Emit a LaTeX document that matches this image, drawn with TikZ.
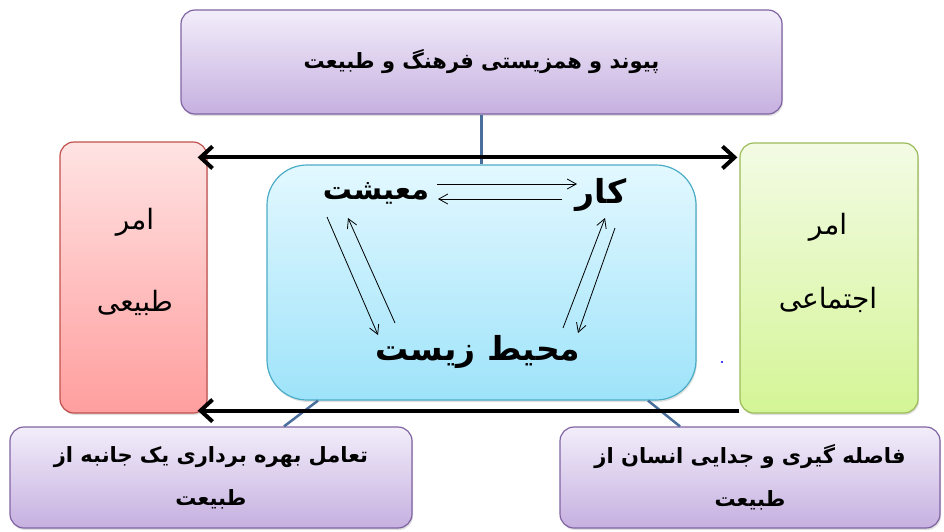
\documentclass[tikz,border=0pt]{standalone}
\usepackage{fontspec}
\newfontfamily\arabicfont[Script=Arabic]{DejaVu Sans}
\TeXXeTstate=1
\usetikzlibrary{arrows.meta,shadows}

\definecolor{violetline}{HTML}{8064A2}
\definecolor{violettop}{HTML}{F2EDFA}
\definecolor{violetbot}{HTML}{C6B0E0}
\definecolor{redline}{HTML}{C0504D}
\definecolor{redtop}{HTML}{FFE3E3}
\definecolor{redbot}{HTML}{FF9E9E}
\definecolor{greenline}{HTML}{9BBB59}
\definecolor{greentop}{HTML}{F3FBE4}
\definecolor{greenbot}{HTML}{D4F596}
\definecolor{cyanline}{HTML}{4BACC6}
\definecolor{cyantop}{HTML}{E3F8FF}
\definecolor{cyanbot}{HTML}{9EE3FA}
\definecolor{linkline}{HTML}{4A6F9C}

\tikzstyle{base} = [rectangle, draw, line width=1.2pt, rounded corners=14pt,
    drop shadow={opacity=0.25, shadow xshift=1pt, shadow yshift=-2pt}]
\tikzstyle{violetbox} = [base, draw=violetline, top color=violettop,
    bottom color=violetbot, align=center,
    font=\arabicfont\bfseries\fontsize{21}{43}\selectfont]
\tikzstyle{redbox} = [base, draw=redline, top color=redtop, bottom color=redbot]
\tikzstyle{greenbox} = [base, draw=greenline, top color=greentop, bottom color=greenbot]
\tikzstyle{cyanbox} = [base, draw=cyanline, top color=cyantop, bottom color=cyanbot,
    rounded corners=40pt]
\tikzstyle{sideword} = [inner sep=0pt, font=\arabicfont\fontsize{28}{32}\selectfont]
\tikzstyle{word} = [inner sep=0pt, font=\arabicfont\bfseries\fontsize{29}{33}\selectfont]
\tikzstyle{link} = [draw=linkline, line width=2.5pt]
\tikzstyle{bigarrow} = [draw, line width=4pt, -{Straight Barb[length=12pt,width=22pt]}]
\tikzstyle{thinarrow} = [draw, line width=0.8pt, -{Straight Barb[length=9pt,width=10pt]}]

\begin{document}
\begin{tikzpicture}[x=1pt, y=-1pt]
\useasboundingbox (0,0) rectangle (944,531);
\node [violetbox, minimum width=601, minimum height=104] (unity) at (481.5,62)
    {\beginR پیوند و همزیستی فرهنگ و طبیعت\endR};
\node [cyanbox, minimum width=429, minimum height=235] (life) at (481.5,282.5) {};
\node [redbox, minimum width=147, minimum height=271] (nature) at (133.5,277.5) {};
\node [greenbox, minimum width=178, minimum height=270] (social) at (829,278) {};
\node [violetbox, minimum width=402, minimum height=101] (oneway) at (211,477.5)
    {\beginR تعامل بهره برداری یک جانبه از\endR\\ \beginR طبیعت\endR};
\node [violetbox, minimum width=380, minimum height=101] (apart) at (750,477.5)
    {\beginR فاصله گیری و جدایی انسان از\endR\\ \beginR طبیعت\endR};

\node [sideword] (amrn) at (135,222) {\beginR امر\endR};
\node [sideword] (tabii) at (135,303) {\beginR طبیعی\endR};
\node [sideword] (amrs) at (828,227) {\beginR امر\endR};
\node [sideword] (ejtemai) at (828,300) {\beginR اجتماعی\endR};

\node [word] (maish) at (376,193) {\beginR معیشت\endR};
\node [word, font=\arabicfont\bfseries\fontsize{33}{37}\selectfont] (kar) at (601,195)
    {\beginR کار\endR};
\node [word, font=\arabicfont\bfseries\fontsize{33}{37}\selectfont] (mohit) at (478,352)
    {\beginR محیط زیست\endR};

\path [link] (unity.south) -- (life.north);
\path [link] ([shift={(-163.5,0)}]life.south) -- ([shift={(73,0)}]oneway.north);
\path [link] ([shift={(166.5,0)}]life.south) -- ([shift={(-70,0)}]apart.north);

\path [bigarrow, {Straight Barb[length=12pt,width=22pt]}-{Straight Barb[length=12pt,width=22pt]}]
    ([shift={(-10,16)}]nature.north east) -- ([shift={(-2,15)}]social.north west);
\path [bigarrow] ([shift={(0,-3)}]social.south west) -- ([shift={(-10,-3)}]nature.south east);

\path [thinarrow] ([shift={(61,-9)}]maish.center) -- ([shift={(-24,-11)}]kar.center);
\path [thinarrow] ([shift={(-39,4)}]kar.center) -- ([shift={(62,6)}]maish.center);
\path [thinarrow] ([shift={(-49,24)}]maish.center) -- ([shift={(-100,-17)}]mohit.center);
\path [thinarrow] ([shift={(-83,-29)}]mohit.center) -- ([shift={(-28,25)}]maish.center);
\path [thinarrow] ([shift={(85,-24)}]mohit.center) -- ([shift={(4,23)}]kar.center);
\path [thinarrow] ([shift={(14,33)}]kar.center) -- ([shift={(100,-19)}]mohit.center);

\fill [blue] (722,362) circle (1.2);
\end{tikzpicture}
\end{document}
